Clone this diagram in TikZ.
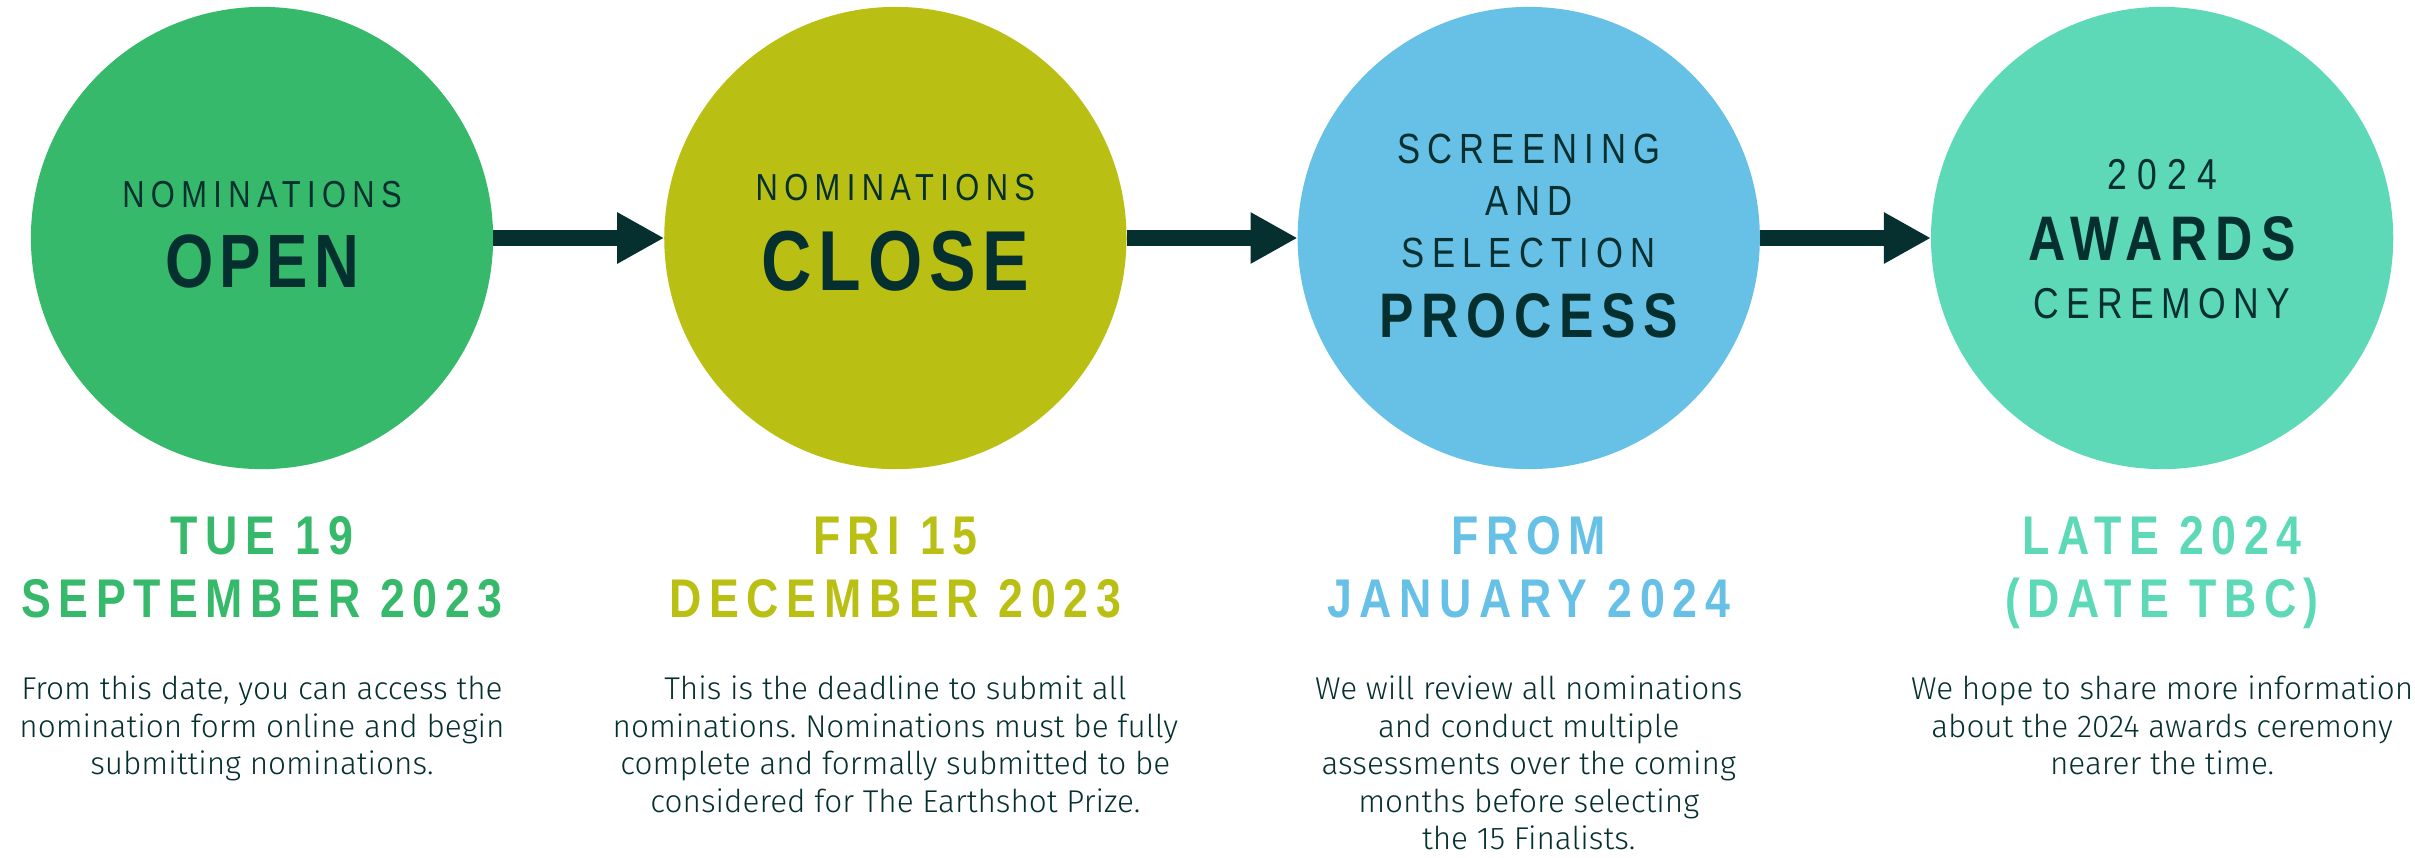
\documentclass[tikz,border=0pt]{standalone}
\usepackage{fontspec}
\usepackage{tikz}
\usetikzlibrary{arrows.meta,positioning}
\newfontfamily\ringfont{Liberation Sans}[FakeStretch=0.82,LetterSpace=17]
\newfontfamily\ringbold{Liberation Sans Bold}[FakeStretch=0.82,LetterSpace=8]
\newfontfamily\datefont{Liberation Sans Bold}[FakeStretch=0.82,LetterSpace=14]
\newfontfamily\bodyfont{Fira Sans Light}
\definecolor{ink}{RGB}{6,48,47}
\definecolor{openc}{RGB}{54,185,106}
\definecolor{closec}{RGB}{185,191,19}
\definecolor{screenc}{RGB}{103,192,230}
\definecolor{awardc}{RGB}{93,217,184}
\frenchspacing

\begin{document}
\begin{tikzpicture}[x=0.01cm, y=-0.01cm,
  stage/.style={circle, minimum size=4.62cm, inner sep=0pt, outer sep=0pt},
  ringlbl/.style={anchor=base, inner sep=0pt, text=ink, font=\ringfont\fontsize{#1}{#1}\selectfont},
  ringkey/.style={anchor=base, inner sep=0pt, text=ink, font=\ringbold\fontsize{#1}{#1}\selectfont},
  datelbl/.style={anchor=north, inner sep=0pt, align=center, text=#1, font=\datefont\fontsize{15.5}{17.9}\selectfont},
  blurb/.style={anchor=north, inner sep=0pt, align=center, text=ink, font=\bodyfont\fontsize{8.96}{10.7}\selectfont},
  flow/.style={draw=ink, line width=1.6mm, -{Triangle[length=4.7mm, width=4.8mm]}}]
  \useasboundingbox (0,0) rectangle (2415,857);

  % the four stages
  \node[stage, fill=openc] (c1) at (262,238) {};
  \node[stage, fill=closec, right=1.71cm of c1] (c2) {};
  \node[stage, fill=screenc, right=1.71cm of c2] (c3) {};
  \node[stage, fill=awardc, right=1.71cm of c3] (c4) {};

  \node[ringlbl=10.7] (c1top) at (c1 |- 0,207) {NOMINATIONS};
  \node[ringkey=21.5] (c1key) at (c1 |- 0,287) {OPEN};
  \node[ringlbl=10.7] (c2top) at (c2 |- 0,200) {NOMINATIONS};
  \node[ringkey=24.2] (c2key) at (c2 |- 0,290) {CLOSE};
  \node[ringlbl=12] (c3a) at (c3 |- 0,163) {SCREENING};
  \node[ringlbl=12] (c3b) at (c3 |- 0,215) {AND};
  \node[ringlbl=12] (c3c) at (c3 |- 0,267) {SELECTION};
  \node[ringkey=17.9] (c3key) at (c3 |- 0,337) {\addfontfeature{LetterSpace=12}PROCESS};
  \node[ringlbl=12.3] (c4a) at (c4 |- 0,189) {\addfontfeature{LetterSpace=24}2024};
  \node[ringkey=17.9] (c4key) at (c4 |- 0,260) {\addfontfeature{LetterSpace=13}AWARDS};
  \node[ringlbl=12.3] (c4b) at (c4 |- 0,318) {CEREMONY};

  \draw[flow] (c1) -- (c2);
  \draw[flow] (c2) -- (c3);
  \draw[flow] (c3) -- (c4);

  % dates and notes
  \node[datelbl=openc] (d1) at (c1 |- 0,516) {TUE 19\\SEPTEMBER 2023};
  \node[datelbl=closec] (d2) at (c2 |- 0,516) {FRI 15\\DECEMBER 2023};
  \node[datelbl=screenc] (d3) at (c3 |- 0,516) {FROM\\JANUARY 2024};
  \node[datelbl=awardc] (d4) at (c4 |- 0,516) {LATE 2024\\(DATE TBC)};

  \node[blurb] (b1) at (c1 |- 0,675) {From this date, you can access the\\nomination form online and begin\\submitting nominations.};
  \node[blurb] (b2) at (c2 |- 0,675) {This is the deadline to submit all\\nominations. Nominations must be fully\\complete and formally submitted to be\\considered for The Earthshot Prize.};
  \node[blurb] (b3) at (c3 |- 0,675) {We will review all nominations\\and conduct multiple\\assessments over the coming\\months before selecting\\the 15 Finalists.};
  \node[blurb] (b4) at (c4 |- 0,675) {We hope to share more information\\about the 2024 awards ceremony\\nearer the time.};
\end{tikzpicture}
\end{document}
